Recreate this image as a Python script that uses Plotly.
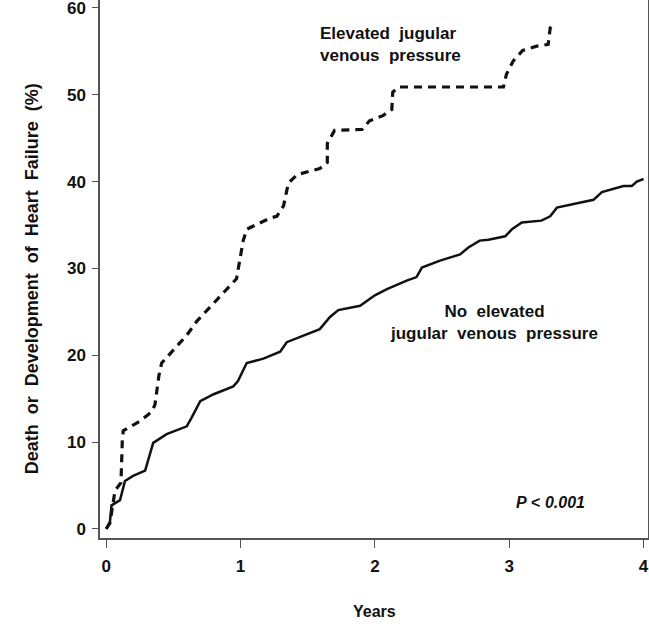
import plotly.graph_objects as go

# Elevated jugular venous pressure (dashed)
elev_years = [0.0, 0.028, 0.066, 0.11, 0.12, 0.127, 0.25, 0.34, 0.363, 0.393, 0.413, 0.50, 0.60,
              0.674, 0.77, 0.97, 1.02, 1.046, 1.22, 1.27, 1.32, 1.356, 1.42, 1.59, 1.646, 1.646,
              1.70, 1.905, 1.96, 2.06, 2.126, 2.133, 2.175, 2.957, 2.98, 3.03, 3.10, 3.205, 3.29,
              3.305, 3.317]
elev_pct = [0.0, 0.66, 4.4, 5.3, 10.1, 11.3, 12.4, 13.5, 14.3, 17.7, 19.1, 20.6, 22.3,
            23.9, 25.5, 28.8, 33.2, 34.5, 35.8, 36.0, 37.2, 39.8, 40.8, 41.5, 42.2, 44.4,
            45.9, 46.0, 47.0, 47.6, 48.3, 50.3, 50.9, 50.9, 52.4, 53.9, 55.1, 55.6, 55.8,
            57.7, 57.9]

# No elevated jugular venous pressure (solid)
noelev_years = [0.0, 0.028, 0.04, 0.103, 0.14, 0.20, 0.29, 0.35, 0.45, 0.60, 0.636, 0.70, 0.80,
                0.946, 0.98, 1.046, 1.17, 1.295, 1.344, 1.517, 1.59, 1.666, 1.728, 1.89, 2.0,
                2.09, 2.237, 2.31, 2.35, 2.485, 2.634, 2.696, 2.78, 2.845, 2.97, 3.02, 3.094,
                3.24, 3.305, 3.355, 3.50, 3.627, 3.69, 3.85, 3.913, 3.95, 4.0]
noelev_pct = [0.0, 0.8, 2.7, 3.3, 5.5, 6.1, 6.7, 9.9, 10.9, 11.8, 12.8, 14.7, 15.5,
              16.4, 17.0, 19.1, 19.6, 20.4, 21.5, 22.5, 23.0, 24.4, 25.2, 25.7, 26.9,
              27.6, 28.6, 29.0, 30.1, 30.9, 31.6, 32.4, 33.2, 33.3, 33.7, 34.5, 35.3,
              35.5, 36.0, 37.0, 37.5, 37.9, 38.8, 39.5, 39.5, 40.0, 40.3]

x_ticks = [0, 1, 2, 3, 4]
y_ticks = [0, 10, 20, 30, 40, 50, 60]

FONT = "Liberation Sans, Arial, sans-serif"
INK = "#111111"
SP = "\u00a0"

fig = go.Figure()
fig.add_trace(go.Scatter(x=noelev_years, y=noelev_pct, mode="lines",
                         line=dict(color=INK, width=2.5), showlegend=False))
fig.add_trace(go.Scatter(x=elev_years, y=elev_pct, mode="lines",
                         line=dict(color=INK, width=3.2, dash="8px,6px"), showlegend=False))

fig.update_layout(
    width=649, height=624,
    margin=dict(l=100, r=1, t=0, b=86),
    paper_bgcolor="white", plot_bgcolor="white",
    font=dict(family=FONT, color=INK),
    xaxis=dict(range=[-0.046, 4.033], tickvals=x_ticks,
               ticktext=[f"<b>{v}</b>" for v in x_ticks],
               showgrid=False, zeroline=False, showline=True, linecolor="#555555",
               linewidth=1.5, ticks="outside", ticklen=8, tickwidth=1.3, tickcolor="#555555",
               tickfont=dict(size=17, family=FONT, color=INK), ticklabelstandoff=4,
               ticklabeloverflow="allow", automargin=False),
    yaxis=dict(range=[-1.06, 60.92], tickvals=y_ticks,
               ticktext=[f"<b>{v}</b>" for v in y_ticks],
               showgrid=False, zeroline=False, showline=True, linecolor="#555555",
               linewidth=1.5, mirror=True, ticks="outside", ticklen=6, tickwidth=1.3,
               tickcolor="#555555", tickfont=dict(size=17, family=FONT, color=INK),
               ticklabelstandoff=3, ticklabeloverflow="allow", automargin=False),
)

annos = [
    dict(text=f"<b>Death{SP}{SP}or{SP}{SP}Development{SP}{SP}of{SP}{SP}Heart{SP}{SP}Failure{SP}{SP}(%)</b>",
         xref="paper", yref="paper", x=-0.124, y=0.481, textangle=-90,
         xanchor="center", yanchor="middle", font=dict(size=18)),
    dict(text="<b>Years</b>", xref="paper", yref="paper", x=0.5, y=-0.1358,
         xanchor="center", yanchor="middle", font=dict(size=16)),
    dict(text=f"<b>Elevated{SP}{SP}jugular<br>venous{SP}{SP}pressure</b>", xref="x", yref="y",
         x=1.577, y=55.83, xanchor="left", yanchor="middle", align="left", font=dict(size=17)),
    dict(text=f"<b>No{SP}{SP}elevated<br>jugular{SP}{SP}venous{SP}{SP}pressure</b>", xref="x", yref="y",
         x=2.888, y=23.79, xanchor="center", yanchor="middle", align="center", font=dict(size=17)),
    dict(text="<b><i>P</i> < <i>0.001</i></b>", xref="x", yref="y",
         x=3.305, y=3.02, xanchor="center", yanchor="middle", font=dict(size=16)),
]
for a in annos:
    a["showarrow"] = False
    fig.add_annotation(**a)

fig.write_html("out.html")
